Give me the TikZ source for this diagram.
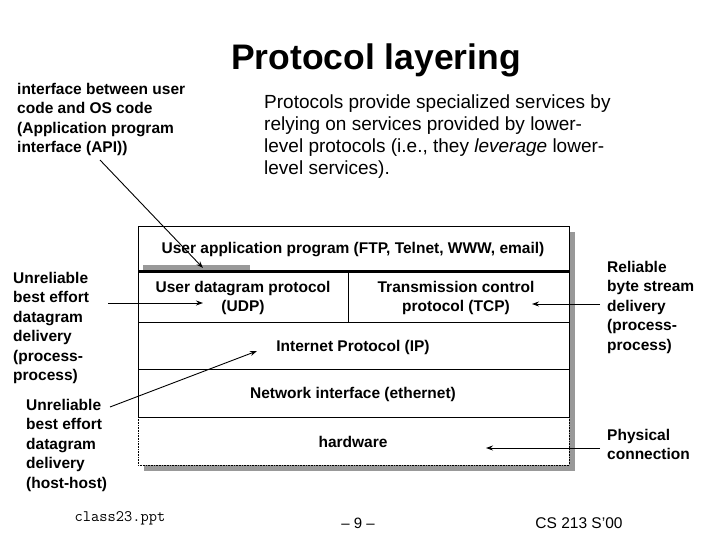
\documentclass[tikz,border=0pt]{standalone}
\usepackage{fontspec}
\setmainfont{Liberation Sans}
\usetikzlibrary{arrows.meta}
\begin{document}
\begin{tikzpicture}[x=1pt,y=-1pt,
  lbl/.style={font=\bfseries\fontsize{15.5}{19.5}\selectfont,align=left,anchor=north west,inner sep=0},
  ctr/.style={font=\bfseries\fontsize{15.5}{19.5}\selectfont,align=center,inner sep=0},
  arr/.style={-{Stealth[length=7pt,width=5pt]},line width=0.9pt},
  shadow/.style={fill=black!40,draw=none}]
\useasboundingbox (0,0) rectangle (720,540);
% shadows
\fill[shadow] (144,232) rectangle (575,471);
\fill[white] (138,226) rectangle (569,465);
\draw[line width=0.9pt] (138,226) rectangle (569,417);
\draw[densely dotted,line width=0.6pt] (138,417) rectangle (569,465);
\fill[black!40] (143,265) rectangle (250,271);
\draw[line width=3pt] (138,271) -- (569,271);
\draw[line width=0.9pt] (138,322) -- (569,322);
\draw[line width=0.9pt] (138,369) -- (569,369);
\draw[line width=0.9pt] (348,271) -- (348,322);
\node[ctr] (app) at (353,250) {User application program (FTP, Telnet, WWW, email)};
\node[ctr] (udp) at (243,298) {User datagram protocol\\(UDP)};
\node[ctr] (tcp) at (456,298) {Transmission control\\protocol (TCP)};
\node[ctr] (ip) at (353,347) {Internet Protocol (IP)};
\node[ctr] (net) at (353,394) {Network interface (ethernet)};
\node[ctr] (hw) at (353,442) {hardware};
\node[font=\bfseries\fontsize{35.5}{40}\selectfont,inner sep=0] (title) at (376,60) {Protocol layering};
\node[lbl] (api) at (17,83) {interface between user\\code and OS code\\(Application program\\interface (API))};
\node[font=\fontsize{19}{22}\selectfont,align=left,anchor=north west,inner sep=0] (desc) at (264,95) {Protocols provide specialized services by\\relying on services provided by lower-\\level protocols (i.e., they \textit{leverage} lower-\\level services).};
\node[lbl] (upp) at (13,272) {Unreliable\\best effort\\datagram\\delivery\\(process-\\process)};
\node[lbl] (uhh) at (26,399) {Unreliable\\best effort\\datagram\\delivery\\(host-host)};
\node[lbl] (rel) at (607,261) {Reliable\\byte stream\\delivery\\(process-\\process)};
\node[lbl] (phy) at (607,429) {Physical\\connection};
\coordinate (a1) at (100,160); \coordinate (a1e) at (203,268);
\coordinate (a2) at (108,303); \coordinate (a2e) at (203,303);
\coordinate (a3) at (110,407); \coordinate (a3e) at (257,351);
\coordinate (a4) at (600,304); \coordinate (a4e) at (532,304);
\coordinate (a5) at (600,448); \coordinate (a5e) at (486,448);
\draw[arr] (a1) -- (a1e);
\draw[arr] (a2) -- (a2e);
\draw[arr] (a3) -- (a3e);
\draw[arr] (a4) -- (a4e);
\draw[arr] (a5) -- (a5e);
\node[font=\ttfamily\fontsize{16}{18}\selectfont,inner sep=0] (cls) at (120,518) {class23.ppt};
\node[font=\fontsize{15}{17}\selectfont,inner sep=0] (pg) at (358,523) {-- 9 --};
\node[font=\fontsize{15.5}{17}\selectfont,inner sep=0] (cs) at (579,523) {CS 213 S'00};
\end{tikzpicture}
\end{document}
